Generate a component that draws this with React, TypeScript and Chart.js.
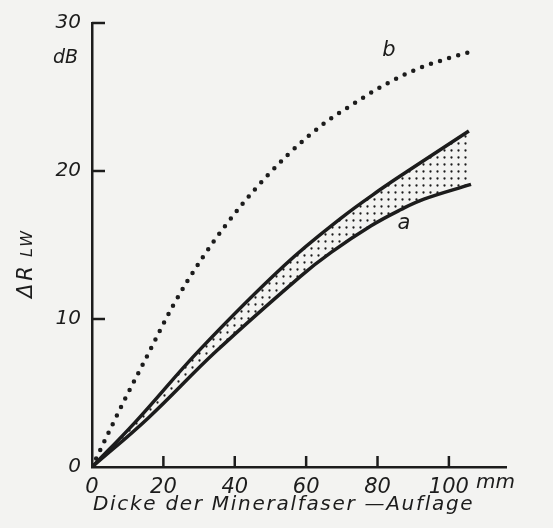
import React, { useEffect, useRef } from "react";
import { Chart, registerables } from "chart.js";
Chart.register(...registerables);

// ---- data ----
const xTickValues = [0, 20, 40, 60, 80, 100];
const yTickValues = [0, 10, 20, 30];
const upperX = [0, 12, 30.5, 53.8, 69.7, 81.7, 88.5, 105.6];
const upperY = [0, 3.0, 8.0, 13.6, 16.8, 18.9, 20.0, 22.7];
const lowerX = [0, 15.7, 34.7, 58.5, 67, 78.2, 86.6, 93, 106.2];
const lowerY = [0, 3.3, 7.8, 12.9, 14.5, 16.3, 17.4, 18.1, 19.1];
const bX = [0, 9, 14.6, 22.7, 31.1, 42.6, 54.9, 65.5, 71.7, 81.8, 91.2, 99.6, 106.7];
const bY = [0, 4.47, 7.1, 10.9, 14.2, 17.9, 21.1, 23.3, 24.3, 25.8, 26.9, 27.6, 28.1];
const xTitle = "Dicke der Mineralfaser —Auflage";
const xUnit = "mm";
const yUnit = "dB";
const yTitleMain = "ΔR";
const yTitleSub = "LW";
const curveLabelA = "a";
const curveLabelB = "b";

const INK = "#1c1c1c";
const BG = "#f3f3f1";
const FONT = "'DejaVu Sans', sans-serif";

function makeDotPattern(): CanvasPattern | string {
  const c = document.createElement("canvas");
  c.width = 7;
  c.height = 7;
  const g = c.getContext("2d");
  if (!g) return "rgba(0,0,0,0.2)";
  g.fillStyle = INK;
  g.beginPath();
  g.arc(3.5, 3.5, 1.15, 0, Math.PI * 2);
  g.fill();
  const p = g.createPattern(c, "repeat");
  return p || "rgba(0,0,0,0.2)";
}

const decorPlugin = {
  id: "decor",
  afterDatasetsDraw(chart: any) {
    const { ctx, scales } = chart;
    const x = scales.x;
    const y = scales.y;
    ctx.save();
    ctx.strokeStyle = INK;
    ctx.lineWidth = 2.5;
    // inward tick marks
    xTickValues.forEach((v) => {
      if (v === 0) return;
      const px = x.getPixelForValue(v);
      ctx.beginPath();
      ctx.moveTo(px, y.bottom);
      ctx.lineTo(px, y.bottom - 11);
      ctx.stroke();
    });
    yTickValues.forEach((v) => {
      if (v === 0) return;
      const py = y.getPixelForValue(v);
      ctx.beginPath();
      ctx.moveTo(x.left, py);
      ctx.lineTo(x.left + 13, py);
      ctx.stroke();
    });

    ctx.fillStyle = INK;
    // unit mm after "100"
    ctx.font = `oblique 20px ${FONT}`;
    ctx.textBaseline = "middle";
    ctx.textAlign = "left";
    ctx.fillText(xUnit, 476, 483);
    // dB under 30
    ctx.font = `oblique 19px ${FONT}`;
    ctx.textAlign = "right";
    ctx.fillText(yUnit, 78, 58);
    // curve labels
    ctx.font = `oblique 21px ${FONT}`;
    ctx.textAlign = "center";
    ctx.fillText(curveLabelB, 389, 51);
    ctx.fillText(curveLabelA, 404, 224);

    // x axis title with letter spacing to span the reference width
    ctx.font = `oblique 20px ${FONT}`;
    ctx.textAlign = "left";
    ctx.textBaseline = "alphabetic";
    const targetW = 380;
    const w = ctx.measureText(xTitle).width;
    const ls = Math.max(0, (targetW - w) / (xTitle.length - 1));
    (ctx as any).letterSpacing = `${ls}px`;
    ctx.fillText(xTitle, 93, 510);
    (ctx as any).letterSpacing = "0px";

    // y axis title rotated
    ctx.translate(32, 298);
    ctx.rotate(-Math.PI / 2);
    ctx.font = `oblique 21px ${FONT}`;
    ctx.textAlign = "left";
    (ctx as any).letterSpacing = "3px";
    ctx.fillText(yTitleMain, 0, 0);
    const mw = ctx.measureText(yTitleMain).width;
    ctx.font = `oblique 16px ${FONT}`;
    (ctx as any).letterSpacing = "2px";
    ctx.fillText(yTitleSub, mw + 6, 0);
    (ctx as any).letterSpacing = "0px";
    ctx.restore();
  },
};

export default function App() {
  const ref = useRef<HTMLCanvasElement | null>(null);
  useEffect(() => {
    if (!ref.current) return;
    const pattern = makeDotPattern();
    const toPts = (xs: number[], ys: number[]) => xs.map((v, i) => ({ x: v, y: ys[i] }));
    const chart = new Chart(ref.current, {
      type: "line",
      data: {
        datasets: [
          {
            label: "upper",
            data: toPts(upperX, upperY),
            borderColor: INK,
            borderWidth: 3.5,
            pointRadius: 0,
            tension: 0.4,
            fill: false,
          },
          {
            label: "a",
            data: toPts(lowerX, lowerY),
            borderColor: INK,
            borderWidth: 3.5,
            pointRadius: 0,
            tension: 0.4,
            fill: "-1",
            backgroundColor: pattern as any,
          },
          {
            label: "b",
            data: toPts(bX, bY),
            borderColor: INK,
            borderWidth: 4.5,
            borderDash: [0, 9.5],
            borderCapStyle: "round",
            pointRadius: 0,
            cubicInterpolationMode: "monotone",
            fill: false,
          },
        ],
      },
      options: {
        animation: false,
        responsive: true,
        maintainAspectRatio: false,
        layout: { padding: { top: 16, right: 47, left: 0, bottom: 0 } },
        plugins: { legend: { display: false }, tooltip: { enabled: false } },
        scales: {
          x: {
            type: "linear",
            min: 0,
            max: 116,
            afterBuildTicks: (s: any) => {
              s.ticks = xTickValues.map((v) => ({ value: v }));
            },
            afterFit: (s: any) => {
              s.height = 61;
            },
            grid: { display: true, drawOnChartArea: false, drawTicks: false },
            border: { display: true, color: INK, width: 2.5 },
            ticks: {
              padding: 8,
              color: INK,
              font: { family: FONT, size: 21, style: "oblique" as any },
              maxRotation: 0,
              autoSkip: false,
            },
          },
          y: {
            type: "linear",
            min: 0,
            max: 30,
            afterBuildTicks: (s: any) => {
              s.ticks = yTickValues.map((v) => ({ value: v }));
            },
            afterFit: (s: any) => {
              s.width = 92;
            },
            grid: { display: true, drawOnChartArea: false, drawTicks: false },
            border: { display: true, color: INK, width: 2.5 },
            ticks: {
              padding: 11,
              color: INK,
              font: { family: FONT, size: 20, style: "oblique" as any },
            },
          },
        },
      },
      plugins: [decorPlugin],
    });
    return () => chart.destroy();
  }, []);
  return (
    <div style={{ position: "fixed", left: 0, top: 0, width: 553, height: 528, background: BG }}>
      <canvas ref={ref} />
    </div>
  );
}
